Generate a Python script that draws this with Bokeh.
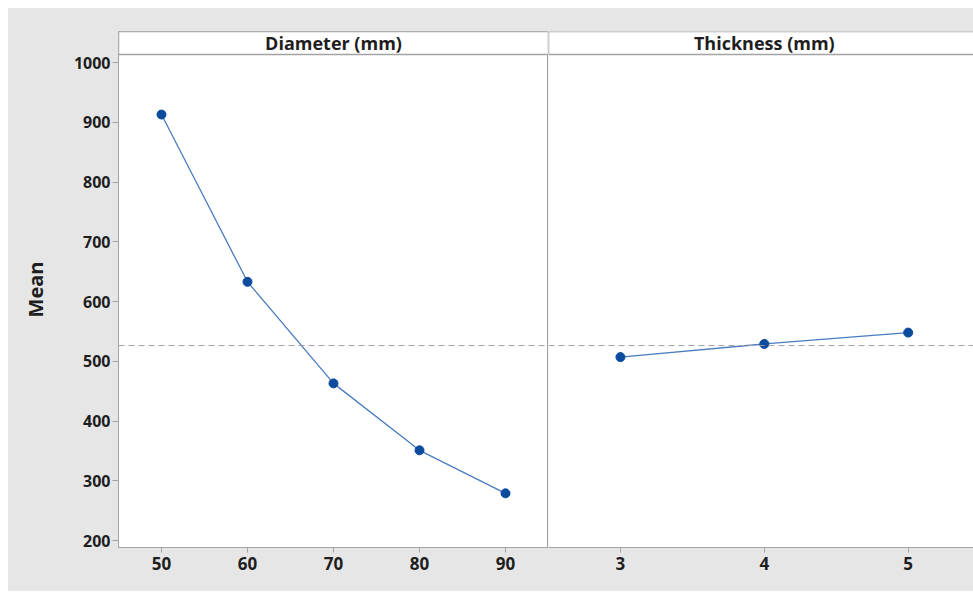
from bokeh.plotting import figure
from bokeh.layouts import row
from bokeh.models import Range1d, FixedTicker, Span, BoxAnnotation, Label
from bokeh.embed import file_html
from bokeh.resources import INLINE

# ---- data ----
diameter = [50, 60, 70, 80, 90]
diameter_mean = [913, 633, 463, 351, 279]
thickness = [3, 4, 5]
thickness_mean = [507, 529, 548]
y_ticks = [200, 300, 400, 500, 600, 700, 800, 900, 1000]
panel_titles = ["Diameter (mm)", "Thickness (mm)"]
y_title = "Mean"

grand_mean = sum(diameter_mean) / len(diameter_mean) - 1.5

# ---- style ----
BG = "#e6e6e6"
FRAME = "#a3a3a3"
LINE = "#4a7cc0"
MARK = "#0b4b9e"
TXT = "#1e1e1e"
FONT = "Open Sans"

Y0, Y1 = 188.3, 1052.0
STRIP_BOTTOM = 1013.5
STRIP_MID = (STRIP_BOTTOM + Y1) / 2
yr = Range1d(Y0, Y1)


def style(p, xticks):
    p.background_fill_color = "white"
    p.border_fill_color = BG
    p.grid.visible = False
    p.xaxis.ticker = FixedTicker(ticks=xticks)
    p.xaxis.axis_line_color = FRAME
    p.xaxis.major_tick_line_color = FRAME
    p.xaxis.minor_tick_line_color = None
    p.xaxis.major_tick_out = 5
    p.xaxis.major_tick_in = 0
    p.xaxis.major_label_standoff = 4
    p.xaxis.major_label_text_font = FONT
    p.xaxis.major_label_text_font_size = "17px"
    p.xaxis.major_label_text_color = TXT
    p.xaxis.major_label_text_font_style = "bold"


# ---- left panel ----
left = figure(width=540, height=583, x_range=Range1d(45, 95), y_range=yr,
              output_backend="svg", toolbar_location=None,
              min_border_left=110, min_border_right=0,
              min_border_top=23, min_border_bottom=44)
style(left, diameter)
left.outline_line_color = FRAME
left.yaxis.ticker = FixedTicker(ticks=y_ticks)
left.yaxis.axis_line_color = FRAME
left.yaxis.major_tick_line_color = FRAME
left.yaxis.minor_tick_line_color = None
left.yaxis.major_tick_out = 6
left.yaxis.major_tick_in = 0
left.yaxis.major_label_standoff = 2
left.yaxis.major_label_text_font = FONT
left.yaxis.major_label_text_font_size = "16px"
left.yaxis.major_label_text_color = TXT
left.yaxis.major_label_text_font_style = "bold"
left.yaxis.axis_label = y_title
left.yaxis.axis_label_text_font = FONT
left.yaxis.axis_label_text_font_size = "20px"
left.yaxis.axis_label_text_font_style = "bold"
left.yaxis.axis_label_text_color = TXT
left.yaxis.axis_label_standoff = 22

# ---- right panel ----
right = figure(width=425, height=583, x_range=Range1d(2.5, 5.454), y_range=yr,
               output_backend="svg", toolbar_location=None,
               y_axis_location=None,
               min_border_left=0, min_border_right=0,
               min_border_top=23, min_border_bottom=44)
style(right, thickness)
right.outline_line_color = None

for p, xs, ys, title, strip_right in [
        (left, diameter, diameter_mean, panel_titles[0], None),
        (right, thickness, thickness_mean, panel_titles[1], 5.7)]:
    p.add_layout(BoxAnnotation(bottom=STRIP_BOTTOM, right=strip_right,
                               fill_color="white", fill_alpha=1,
                               line_color=FRAME, line_width=1.5, line_alpha=1))
    p.add_layout(Span(location=grand_mean, dimension="width", line_color="#a0a0a0",
                      line_dash="6 4", line_width=1))
    p.line(xs, ys, line_color=LINE, line_width=1.3)
    p.scatter(xs, ys, size=9, fill_color=MARK, line_color=MARK)
    xmid = (xs[0] + xs[-1]) / 2
    p.add_layout(Label(x=xmid, y=STRIP_MID, text=title, text_align="center",
                       text_baseline="middle", text_font=FONT, text_font_size="18px",
                       text_font_style="bold", text_color=TXT))

layout = row(left, right, spacing=0)
layout.margin = (8, 0, 0, 8)
layout.styles = {"background-color": BG}

open("out.html", "w").write(file_html(layout, INLINE))
